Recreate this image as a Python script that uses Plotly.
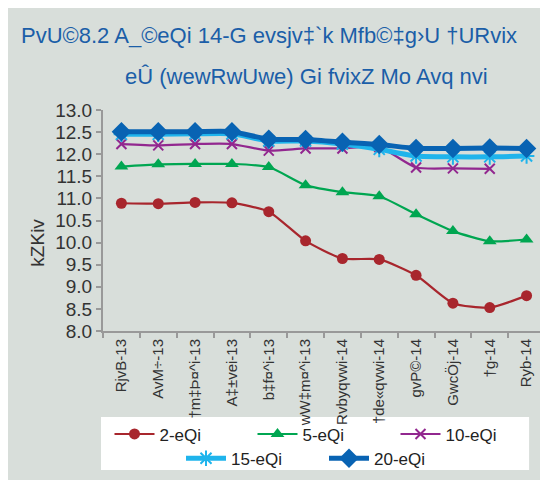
import plotly.graph_objects as go

# months (Bengali text in SutonnyMJ-style ASCII encoding, as shown in the source)
months = ["RjvB-13", "AvM÷-13", "†m‡Þ¤^i-13", "A‡±vei-13", "b‡f¤^i-13", "wW‡m¤^i-13",
          "Rvbyqvwi-14", "†de«qvwi-14", "gvP©-14", "GwcÖj-14", "†g-14", "Ryb-14"]

# weighted average yield (%) by tenor
yr2 = [10.89, 10.88, 10.91, 10.90, 10.70, 10.04, 9.64, 9.62, 9.26, 8.63, 8.53, 8.80]
yr5 = [11.72, 11.77, 11.78, 11.78, 11.71, 11.30, 11.14, 11.05, 10.64, 10.26, 10.03, 10.07]
yr10 = [12.23, 12.20, 12.23, 12.23, 12.08, 12.13, 12.13, 12.16, 11.70, 11.68, 11.67, None]
yr15 = [12.45, 12.45, 12.46, 12.46, 12.30, 12.30, 12.23, 12.11, 11.96, 11.94, 11.94, 11.96]
yr20 = [12.51, 12.51, 12.51, 12.51, 12.34, 12.33, 12.27, 12.22, 12.13, 12.13, 12.14, 12.13]

series_names = ["2-eQi", "5-eQi", "10-eQi", "15-eQi", "20-eQi"]

title_line1 = "PvU©8.2 A_©eQi 14-G evsjv‡`k Mfb©‡g›U †URvix"
title_line2 = "eÛ (wewRwUwe) Gi fvixZ Mo Avq nvi"
y_title = "kZKiv"

FONT = "Liberation Sans Narrow, Liberation Sans, Arial, sans-serif"
BG = "#d8deda"

fig = go.Figure()

styles = [
    dict(color="#a8262d", width=2.2, symbol="circle", size=11, legend="legend"),
    dict(color="#00a651", width=2.2, symbol="triangle-up", size=12, legend="legend"),
    dict(color="#92278f", width=2.2, symbol="x-thin-open", size=10, legend="legend"),
    dict(color="#1fb4ec", width=5, symbol="asterisk-open", size=13, legend="legend2"),
    dict(color="#0863b3", width=5, symbol="diamond", size=15, legend="legend2"),
]

for name, vals, st in zip(series_names, [yr2, yr5, yr10, yr15, yr20], styles):
    open_marker = st["symbol"].endswith("open")
    fig.add_trace(go.Scatter(
        x=months, y=vals, name=name, mode="lines+markers",
        line=dict(color=st["color"], width=st["width"], shape="spline", smoothing=0.6),
        marker=dict(symbol=st["symbol"], size=st["size"], color=st["color"],
                    line=dict(color=st["color"], width=2 if open_marker else 0)),
        legend=st["legend"],
    ))

legend_style = dict(orientation="h", x=0.5, xanchor="center", yanchor="middle",
                    bgcolor="rgba(0,0,0,0)", font=dict(size=17, family=FONT, color="#222222"),
                    itemwidth=40, entrywidth=88, traceorder="normal")

# plot area occupies pixels x 95..537, y 102..323
fig.update_layout(
    width=548, height=480,
    margin=dict(l=95, r=11, t=102, b=157),
    paper_bgcolor=BG, plot_bgcolor=BG,
    font=dict(family=FONT, color="#333333"),
    showlegend=True,
    legend=dict(legend_style, y=-0.468),
    legend2=dict(legend_style, y=-0.578),
    shapes=[dict(type="rect", xref="paper", yref="paper",
                 x0=-0.0045, x1=0.964, y0=-0.629, y1=-0.389,
                 fillcolor="white", line=dict(width=0), layer="below")],
    annotations=[
        dict(text=title_line1, xref="paper", yref="paper", x=-0.19, y=1.337,
             xanchor="left", yanchor="middle", showarrow=False,
             font=dict(size=22, family=FONT, color="#1b5ea8")),
        dict(text=title_line2, xref="paper", yref="paper", x=0.045, y=1.152,
             xanchor="left", yanchor="middle", showarrow=False,
             font=dict(size=22, family=FONT, color="#1b5ea8")),
        dict(text=y_title, xref="paper", yref="paper", x=-0.147, y=0.4,
             xanchor="center", yanchor="middle", textangle=-90, showarrow=False,
             font=dict(size=19, family=FONT, color="#333333")),
    ],
)

fig.update_xaxes(
    type="category", range=[-0.5, 11.5], showgrid=False,
    showline=True, linecolor="#999999", linewidth=2,
    ticks="outside", tickson="boundaries", ticklen=5, tickcolor="#999999", tickwidth=1.5,
    tickangle=-90, tickfont=dict(size=15, family=FONT, color="#333333"),
)
fig.update_yaxes(
    range=[8, 13], dtick=0.5, tickformat=".1f", showgrid=False, zeroline=False,
    showline=True, linecolor="#999999", linewidth=2,
    ticks="outside", ticklen=5, tickcolor="#999999", tickwidth=1.5,
    tickfont=dict(size=19, family=FONT, color="#333333"),
)

fig.write_html("out.html")
